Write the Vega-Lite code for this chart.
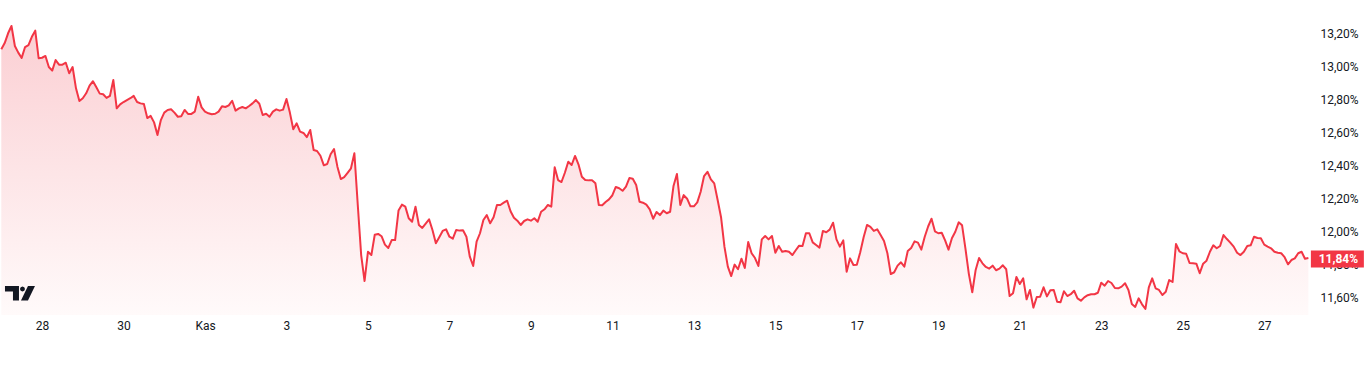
{
"$schema": "https://vega.github.io/schema/vega-lite/v6.json",
"width": 1312, "height": 315, "padding": 0, "autosize": {"type": "pad"},
"background": "#ffffff",
"config": {"view": {"stroke": null}, "font": "Roboto",
  "axis": {"labelFont": "Roboto", "labelFontSize": 12, "labelColor": "#131722", "domain": false, "ticks": false, "grid": false, "title": null}},
"datasets": {"series": [
{"t":"2024-10-27T00:00Z","v":13.103},{"t":"2024-10-27T02:00Z","v":13.141},{"t":"2024-10-27T04:00Z","v":13.200},{"t":"2024-10-27T06:00Z","v":13.244},{"t":"2024-10-27T08:00Z","v":13.123},{"t":"2024-10-27T10:00Z","v":13.083},{"t":"2024-10-27T12:00Z","v":13.051},{"t":"2024-10-27T14:00Z","v":13.117},{"t":"2024-10-27T16:00Z","v":13.129},{"t":"2024-10-27T18:00Z","v":13.179},{"t":"2024-10-27T20:00Z","v":13.216},{"t":"2024-10-27T22:00Z","v":13.049},
{"t":"2024-10-28T00:00Z","v":13.052},{"t":"2024-10-28T02:00Z","v":13.063},{"t":"2024-10-28T04:00Z","v":12.996},{"t":"2024-10-28T06:00Z","v":12.974},{"t":"2024-10-28T08:00Z","v":13.038},{"t":"2024-10-28T10:00Z","v":13.010},{"t":"2024-10-28T12:00Z","v":13.010},{"t":"2024-10-28T14:00Z","v":13.022},{"t":"2024-10-28T16:00Z","v":12.958},{"t":"2024-10-28T18:00Z","v":12.996},{"t":"2024-10-28T20:00Z","v":12.867},{"t":"2024-10-28T22:00Z","v":12.790},
{"t":"2024-10-29T00:00Z","v":12.807},{"t":"2024-10-29T02:00Z","v":12.837},{"t":"2024-10-29T04:00Z","v":12.883},{"t":"2024-10-29T06:00Z","v":12.910},{"t":"2024-10-29T08:00Z","v":12.873},{"t":"2024-10-29T10:00Z","v":12.835},{"t":"2024-10-29T12:00Z","v":12.831},{"t":"2024-10-29T14:00Z","v":12.809},{"t":"2024-10-29T16:00Z","v":12.821},{"t":"2024-10-29T18:00Z","v":12.917},{"t":"2024-10-29T20:00Z","v":12.746},{"t":"2024-10-29T22:00Z","v":12.770},
{"t":"2024-10-30T00:00Z","v":12.784},{"t":"2024-10-30T02:00Z","v":12.796},{"t":"2024-10-30T04:00Z","v":12.807},{"t":"2024-10-30T06:00Z","v":12.821},{"t":"2024-10-30T08:00Z","v":12.784},{"t":"2024-10-30T10:00Z","v":12.776},{"t":"2024-10-30T12:00Z","v":12.772},{"t":"2024-10-30T14:00Z","v":12.687},{"t":"2024-10-30T16:00Z","v":12.700},{"t":"2024-10-30T18:00Z","v":12.661},{"t":"2024-10-30T20:00Z","v":12.585},{"t":"2024-10-30T22:00Z","v":12.675},
{"t":"2024-10-31T00:00Z","v":12.720},{"t":"2024-10-31T02:00Z","v":12.736},{"t":"2024-10-31T04:00Z","v":12.740},{"t":"2024-10-31T06:00Z","v":12.720},{"t":"2024-10-31T08:00Z","v":12.695},{"t":"2024-10-31T10:00Z","v":12.698},{"t":"2024-10-31T12:00Z","v":12.736},{"t":"2024-10-31T14:00Z","v":12.712},{"t":"2024-10-31T16:00Z","v":12.712},{"t":"2024-10-31T18:00Z","v":12.726},{"t":"2024-10-31T20:00Z","v":12.816},{"t":"2024-10-31T22:00Z","v":12.752},
{"t":"2024-11-01T00:00Z","v":12.726},{"t":"2024-11-01T02:00Z","v":12.716},{"t":"2024-11-01T04:00Z","v":12.710},{"t":"2024-11-01T06:00Z","v":12.713},{"t":"2024-11-01T08:00Z","v":12.726},{"t":"2024-11-01T10:00Z","v":12.758},{"t":"2024-11-01T12:00Z","v":12.754},{"t":"2024-11-01T14:00Z","v":12.764},{"t":"2024-11-01T16:00Z","v":12.792},{"t":"2024-11-01T18:00Z","v":12.732},{"t":"2024-11-01T20:00Z","v":12.746},{"t":"2024-11-01T22:00Z","v":12.754},
{"t":"2024-11-02T00:00Z","v":12.746},{"t":"2024-11-02T02:00Z","v":12.760},{"t":"2024-11-02T04:00Z","v":12.776},{"t":"2024-11-02T06:00Z","v":12.796},{"t":"2024-11-02T08:00Z","v":12.774},{"t":"2024-11-02T10:00Z","v":12.706},{"t":"2024-11-02T12:00Z","v":12.713},{"t":"2024-11-02T14:00Z","v":12.695},{"t":"2024-11-02T16:00Z","v":12.726},{"t":"2024-11-02T18:00Z","v":12.740},{"t":"2024-11-02T20:00Z","v":12.732},{"t":"2024-11-02T22:00Z","v":12.738},
{"t":"2024-11-03T00:00Z","v":12.802},{"t":"2024-11-03T02:00Z","v":12.720},{"t":"2024-11-03T04:00Z","v":12.619},{"t":"2024-11-03T06:00Z","v":12.655},{"t":"2024-11-03T08:00Z","v":12.605},{"t":"2024-11-03T10:00Z","v":12.597},{"t":"2024-11-03T12:00Z","v":12.572},{"t":"2024-11-03T14:00Z","v":12.615},{"t":"2024-11-03T16:00Z","v":12.494},{"t":"2024-11-03T18:00Z","v":12.488},{"t":"2024-11-03T20:00Z","v":12.459},{"t":"2024-11-03T22:00Z","v":12.401},
{"t":"2024-11-04T00:00Z","v":12.409},{"t":"2024-11-04T02:00Z","v":12.468},{"t":"2024-11-04T04:00Z","v":12.500},{"t":"2024-11-04T06:00Z","v":12.393},{"t":"2024-11-04T08:00Z","v":12.318},{"t":"2024-11-04T10:00Z","v":12.330},{"t":"2024-11-04T12:00Z","v":12.356},{"t":"2024-11-04T14:00Z","v":12.383},{"t":"2024-11-04T16:00Z","v":12.474},{"t":"2024-11-04T18:00Z","v":12.161},{"t":"2024-11-04T20:00Z","v":11.858},{"t":"2024-11-04T22:00Z","v":11.701},
{"t":"2024-11-05T00:00Z","v":11.878},{"t":"2024-11-05T02:00Z","v":11.858},{"t":"2024-11-05T04:00Z","v":11.981},{"t":"2024-11-05T06:00Z","v":11.986},{"t":"2024-11-05T08:00Z","v":11.972},{"t":"2024-11-05T10:00Z","v":11.921},{"t":"2024-11-05T12:00Z","v":11.901},{"t":"2024-11-05T14:00Z","v":11.949},{"t":"2024-11-05T16:00Z","v":11.949},{"t":"2024-11-05T18:00Z","v":12.127},{"t":"2024-11-05T20:00Z","v":12.163},{"t":"2024-11-05T22:00Z","v":12.151},
{"t":"2024-11-06T00:00Z","v":12.081},{"t":"2024-11-06T02:00Z","v":12.060},{"t":"2024-11-06T04:00Z","v":12.151},{"t":"2024-11-06T06:00Z","v":12.040},{"t":"2024-11-06T08:00Z","v":12.022},{"t":"2024-11-06T10:00Z","v":12.048},{"t":"2024-11-06T12:00Z","v":12.074},{"t":"2024-11-06T14:00Z","v":12.010},{"t":"2024-11-06T16:00Z","v":11.929},{"t":"2024-11-06T18:00Z","v":11.966},{"t":"2024-11-06T20:00Z","v":12.004},{"t":"2024-11-06T22:00Z","v":12.014},
{"t":"2024-11-07T00:00Z","v":11.969},{"t":"2024-11-07T02:00Z","v":11.957},{"t":"2024-11-07T04:00Z","v":12.010},{"t":"2024-11-07T06:00Z","v":12.006},{"t":"2024-11-07T08:00Z","v":12.008},{"t":"2024-11-07T10:00Z","v":11.969},{"t":"2024-11-07T12:00Z","v":11.848},{"t":"2024-11-07T14:00Z","v":11.792},{"t":"2024-11-07T16:00Z","v":11.939},{"t":"2024-11-07T18:00Z","v":11.990},{"t":"2024-11-07T20:00Z","v":12.070},{"t":"2024-11-07T22:00Z","v":12.100},
{"t":"2024-11-08T00:00Z","v":12.050},{"t":"2024-11-08T02:00Z","v":12.087},{"t":"2024-11-08T04:00Z","v":12.161},{"t":"2024-11-08T06:00Z","v":12.161},{"t":"2024-11-08T08:00Z","v":12.175},{"t":"2024-11-08T10:00Z","v":12.187},{"t":"2024-11-08T12:00Z","v":12.123},{"t":"2024-11-08T14:00Z","v":12.084},{"t":"2024-11-08T16:00Z","v":12.066},{"t":"2024-11-08T18:00Z","v":12.040},{"t":"2024-11-08T20:00Z","v":12.064},{"t":"2024-11-08T22:00Z","v":12.074},
{"t":"2024-11-09T00:00Z","v":12.066},{"t":"2024-11-09T02:00Z","v":12.081},{"t":"2024-11-09T04:00Z","v":12.060},{"t":"2024-11-09T06:00Z","v":12.120},{"t":"2024-11-09T08:00Z","v":12.135},{"t":"2024-11-09T10:00Z","v":12.161},{"t":"2024-11-09T12:00Z","v":12.151},{"t":"2024-11-09T14:00Z","v":12.389},{"t":"2024-11-09T16:00Z","v":12.312},{"t":"2024-11-09T18:00Z","v":12.300},{"t":"2024-11-09T20:00Z","v":12.356},{"t":"2024-11-09T22:00Z","v":12.423},
{"t":"2024-11-10T00:00Z","v":12.403},{"t":"2024-11-10T02:00Z","v":12.458},{"t":"2024-11-10T04:00Z","v":12.407},{"t":"2024-11-10T06:00Z","v":12.332},{"t":"2024-11-10T08:00Z","v":12.312},{"t":"2024-11-10T10:00Z","v":12.310},{"t":"2024-11-10T12:00Z","v":12.310},{"t":"2024-11-10T14:00Z","v":12.292},{"t":"2024-11-10T16:00Z","v":12.161},{"t":"2024-11-10T18:00Z","v":12.159},{"t":"2024-11-10T20:00Z","v":12.179},{"t":"2024-11-10T22:00Z","v":12.195},
{"t":"2024-11-11T00:00Z","v":12.220},{"t":"2024-11-11T02:00Z","v":12.270},{"t":"2024-11-11T04:00Z","v":12.262},{"t":"2024-11-11T06:00Z","v":12.247},{"t":"2024-11-11T08:00Z","v":12.272},{"t":"2024-11-11T10:00Z","v":12.324},{"t":"2024-11-11T12:00Z","v":12.320},{"t":"2024-11-11T14:00Z","v":12.282},{"t":"2024-11-11T16:00Z","v":12.181},{"t":"2024-11-11T18:00Z","v":12.175},{"t":"2024-11-11T20:00Z","v":12.163},{"t":"2024-11-11T22:00Z","v":12.135},
{"t":"2024-11-12T00:00Z","v":12.078},{"t":"2024-11-12T02:00Z","v":12.119},{"t":"2024-11-12T04:00Z","v":12.100},{"t":"2024-11-12T06:00Z","v":12.127},{"t":"2024-11-12T08:00Z","v":12.111},{"t":"2024-11-12T10:00Z","v":12.120},{"t":"2024-11-12T12:00Z","v":12.276},{"t":"2024-11-12T14:00Z","v":12.349},{"t":"2024-11-12T16:00Z","v":12.161},{"t":"2024-11-12T18:00Z","v":12.221},{"t":"2024-11-12T20:00Z","v":12.199},{"t":"2024-11-12T22:00Z","v":12.153},
{"t":"2024-11-13T00:00Z","v":12.153},{"t":"2024-11-13T02:00Z","v":12.177},{"t":"2024-11-13T04:00Z","v":12.241},{"t":"2024-11-13T06:00Z","v":12.336},{"t":"2024-11-13T08:00Z","v":12.362},{"t":"2024-11-13T10:00Z","v":12.316},{"t":"2024-11-13T12:00Z","v":12.292},{"t":"2024-11-13T14:00Z","v":12.191},{"t":"2024-11-13T16:00Z","v":12.087},{"t":"2024-11-13T18:00Z","v":11.909},{"t":"2024-11-13T20:00Z","v":11.788},{"t":"2024-11-13T22:00Z","v":11.731},
{"t":"2024-11-14T00:00Z","v":11.800},{"t":"2024-11-14T02:00Z","v":11.772},{"t":"2024-11-14T04:00Z","v":11.836},{"t":"2024-11-14T06:00Z","v":11.780},{"t":"2024-11-14T08:00Z","v":11.937},{"t":"2024-11-14T10:00Z","v":11.869},{"t":"2024-11-14T12:00Z","v":11.840},{"t":"2024-11-14T14:00Z","v":11.792},{"t":"2024-11-14T16:00Z","v":11.953},{"t":"2024-11-14T18:00Z","v":11.973},{"t":"2024-11-14T20:00Z","v":11.953},{"t":"2024-11-14T22:00Z","v":11.973},
{"t":"2024-11-15T00:00Z","v":11.872},{"t":"2024-11-15T02:00Z","v":11.913},{"t":"2024-11-15T04:00Z","v":11.878},{"t":"2024-11-15T06:00Z","v":11.883},{"t":"2024-11-15T08:00Z","v":11.878},{"t":"2024-11-15T10:00Z","v":11.858},{"t":"2024-11-15T12:00Z","v":11.887},{"t":"2024-11-15T14:00Z","v":11.915},{"t":"2024-11-15T16:00Z","v":11.913},{"t":"2024-11-15T18:00Z","v":11.990},{"t":"2024-11-15T20:00Z","v":11.990},{"t":"2024-11-15T22:00Z","v":11.935},
{"t":"2024-11-16T00:00Z","v":11.919},{"t":"2024-11-16T02:00Z","v":11.903},{"t":"2024-11-16T04:00Z","v":12.004},{"t":"2024-11-16T06:00Z","v":11.996},{"t":"2024-11-16T08:00Z","v":12.012},{"t":"2024-11-16T10:00Z","v":12.054},{"t":"2024-11-16T12:00Z","v":11.953},{"t":"2024-11-16T14:00Z","v":11.909},{"t":"2024-11-16T16:00Z","v":11.947},{"t":"2024-11-16T18:00Z","v":11.757},{"t":"2024-11-16T20:00Z","v":11.838},{"t":"2024-11-16T22:00Z","v":11.798},
{"t":"2024-11-17T00:00Z","v":11.800},{"t":"2024-11-17T02:00Z","v":11.875},{"t":"2024-11-17T04:00Z","v":11.966},{"t":"2024-11-17T06:00Z","v":12.040},{"t":"2024-11-17T08:00Z","v":12.028},{"t":"2024-11-17T10:00Z","v":12.004},{"t":"2024-11-17T12:00Z","v":12.014},{"t":"2024-11-17T14:00Z","v":11.979},{"t":"2024-11-17T16:00Z","v":11.943},{"t":"2024-11-17T18:00Z","v":11.869},{"t":"2024-11-17T20:00Z","v":11.743},{"t":"2024-11-17T22:00Z","v":11.754},
{"t":"2024-11-18T00:00Z","v":11.794},{"t":"2024-11-18T02:00Z","v":11.814},{"t":"2024-11-18T04:00Z","v":11.788},{"t":"2024-11-18T06:00Z","v":11.883},{"t":"2024-11-18T08:00Z","v":11.901},{"t":"2024-11-18T10:00Z","v":11.941},{"t":"2024-11-18T12:00Z","v":11.933},{"t":"2024-11-18T14:00Z","v":11.891},{"t":"2024-11-18T16:00Z","v":11.969},{"t":"2024-11-18T18:00Z","v":12.031},{"t":"2024-11-18T20:00Z","v":12.078},{"t":"2024-11-18T22:00Z","v":12.002},
{"t":"2024-11-19T00:00Z","v":11.990},{"t":"2024-11-19T02:00Z","v":11.993},{"t":"2024-11-19T04:00Z","v":11.947},{"t":"2024-11-19T06:00Z","v":11.891},{"t":"2024-11-19T08:00Z","v":11.960},{"t":"2024-11-19T10:00Z","v":11.999},{"t":"2024-11-19T12:00Z","v":12.056},{"t":"2024-11-19T14:00Z","v":12.038},{"t":"2024-11-19T16:00Z","v":11.895},{"t":"2024-11-19T18:00Z","v":11.743},{"t":"2024-11-19T20:00Z","v":11.633},{"t":"2024-11-19T22:00Z","v":11.768},
{"t":"2024-11-20T00:00Z","v":11.840},{"t":"2024-11-20T02:00Z","v":11.808},{"t":"2024-11-20T04:00Z","v":11.786},{"t":"2024-11-20T06:00Z","v":11.776},{"t":"2024-11-20T08:00Z","v":11.794},{"t":"2024-11-20T10:00Z","v":11.766},{"t":"2024-11-20T12:00Z","v":11.776},{"t":"2024-11-20T14:00Z","v":11.796},{"t":"2024-11-20T16:00Z","v":11.772},{"t":"2024-11-20T18:00Z","v":11.610},{"t":"2024-11-20T20:00Z","v":11.627},{"t":"2024-11-20T22:00Z","v":11.725},
{"t":"2024-11-21T00:00Z","v":11.683},{"t":"2024-11-21T02:00Z","v":11.717},{"t":"2024-11-21T04:00Z","v":11.590},{"t":"2024-11-21T06:00Z","v":11.647},{"t":"2024-11-21T08:00Z","v":11.540},{"t":"2024-11-21T10:00Z","v":11.604},{"t":"2024-11-21T12:00Z","v":11.606},{"t":"2024-11-21T14:00Z","v":11.663},{"t":"2024-11-21T16:00Z","v":11.608},{"t":"2024-11-21T18:00Z","v":11.645},{"t":"2024-11-21T20:00Z","v":11.647},{"t":"2024-11-21T22:00Z","v":11.576},
{"t":"2024-11-22T00:00Z","v":11.572},{"t":"2024-11-22T02:00Z","v":11.639},{"t":"2024-11-22T04:00Z","v":11.610},{"t":"2024-11-22T06:00Z","v":11.621},{"t":"2024-11-22T08:00Z","v":11.642},{"t":"2024-11-22T10:00Z","v":11.596},{"t":"2024-11-22T12:00Z","v":11.582},{"t":"2024-11-22T14:00Z","v":11.602},{"t":"2024-11-22T16:00Z","v":11.615},{"t":"2024-11-22T18:00Z","v":11.621},{"t":"2024-11-22T20:00Z","v":11.621},{"t":"2024-11-22T22:00Z","v":11.630},
{"t":"2024-11-23T00:00Z","v":11.691},{"t":"2024-11-23T02:00Z","v":11.673},{"t":"2024-11-23T04:00Z","v":11.701},{"t":"2024-11-23T06:00Z","v":11.689},{"t":"2024-11-23T08:00Z","v":11.659},{"t":"2024-11-23T10:00Z","v":11.657},{"t":"2024-11-23T12:00Z","v":11.667},{"t":"2024-11-23T14:00Z","v":11.687},{"t":"2024-11-23T16:00Z","v":11.647},{"t":"2024-11-23T18:00Z","v":11.562},{"t":"2024-11-23T20:00Z","v":11.544},{"t":"2024-11-23T22:00Z","v":11.596},
{"t":"2024-11-24T00:00Z","v":11.560},{"t":"2024-11-24T02:00Z","v":11.532},{"t":"2024-11-24T04:00Z","v":11.663},{"t":"2024-11-24T06:00Z","v":11.717},{"t":"2024-11-24T08:00Z","v":11.657},{"t":"2024-11-24T10:00Z","v":11.647},{"t":"2024-11-24T12:00Z","v":11.616},{"t":"2024-11-24T14:00Z","v":11.636},{"t":"2024-11-24T16:00Z","v":11.707},{"t":"2024-11-24T18:00Z","v":11.695},{"t":"2024-11-24T20:00Z","v":11.925},{"t":"2024-11-24T22:00Z","v":11.881},
{"t":"2024-11-25T00:00Z","v":11.869},{"t":"2024-11-25T02:00Z","v":11.866},{"t":"2024-11-25T04:00Z","v":11.810},{"t":"2024-11-25T06:00Z","v":11.808},{"t":"2024-11-25T08:00Z","v":11.806},{"t":"2024-11-25T10:00Z","v":11.748},{"t":"2024-11-25T12:00Z","v":11.806},{"t":"2024-11-25T14:00Z","v":11.824},{"t":"2024-11-25T16:00Z","v":11.878},{"t":"2024-11-25T18:00Z","v":11.917},{"t":"2024-11-25T20:00Z","v":11.899},{"t":"2024-11-25T22:00Z","v":11.913},
{"t":"2024-11-26T00:00Z","v":11.979},{"t":"2024-11-26T02:00Z","v":11.955},{"t":"2024-11-26T04:00Z","v":11.933},{"t":"2024-11-26T06:00Z","v":11.909},{"t":"2024-11-26T08:00Z","v":11.872},{"t":"2024-11-26T10:00Z","v":11.858},{"t":"2024-11-26T12:00Z","v":11.878},{"t":"2024-11-26T14:00Z","v":11.913},{"t":"2024-11-26T16:00Z","v":11.917},{"t":"2024-11-26T18:00Z","v":11.969},{"t":"2024-11-26T20:00Z","v":11.961},{"t":"2024-11-26T22:00Z","v":11.960},
{"t":"2024-11-27T00:00Z","v":11.921},{"t":"2024-11-27T02:00Z","v":11.909},{"t":"2024-11-27T04:00Z","v":11.899},{"t":"2024-11-27T06:00Z","v":11.878},{"t":"2024-11-27T08:00Z","v":11.872},{"t":"2024-11-27T10:00Z","v":11.869},{"t":"2024-11-27T12:00Z","v":11.845},{"t":"2024-11-27T14:00Z","v":11.802},{"t":"2024-11-27T16:00Z","v":11.828},{"t":"2024-11-27T18:00Z","v":11.838},{"t":"2024-11-27T20:00Z","v":11.869},{"t":"2024-11-27T22:00Z","v":11.878},
{"t":"2024-11-28T00:00Z","v":11.836},{"t":"2024-11-28T02:00Z","v":11.840}
]},
"data": {"name": "series"},
"encoding": {
  "x": {"field": "t", "type": "temporal",
    "scale": {"type": "utc", "domain": [{"year": 2024, "month": 10, "date": 26, "hours": 23, "minutes": 14, "utc": true}, {"year": 2024, "month": 11, "date": 28, "hours": 4, "minutes": 8, "utc": true}]},
    "axis": {"values": [
      {"year": 2024, "month": 10, "date": 28, "utc": true}, {"year": 2024, "month": 10, "date": 30, "utc": true},
      {"year": 2024, "month": 11, "date": 1, "utc": true}, {"year": 2024, "month": 11, "date": 3, "utc": true},
      {"year": 2024, "month": 11, "date": 5, "utc": true}, {"year": 2024, "month": 11, "date": 7, "utc": true},
      {"year": 2024, "month": 11, "date": 9, "utc": true}, {"year": 2024, "month": 11, "date": 11, "utc": true},
      {"year": 2024, "month": 11, "date": 13, "utc": true}, {"year": 2024, "month": 11, "date": 15, "utc": true},
      {"year": 2024, "month": 11, "date": 17, "utc": true}, {"year": 2024, "month": 11, "date": 19, "utc": true},
      {"year": 2024, "month": 11, "date": 21, "utc": true}, {"year": 2024, "month": 11, "date": 23, "utc": true},
      {"year": 2024, "month": 11, "date": 25, "utc": true}, {"year": 2024, "month": 11, "date": 27, "utc": true}],
      "labelExpr": "utcdate(datum.value) == 1 ? 'Kas' : '' + utcdate(datum.value)",
      "labelPadding": 5, "labelFlush": false, "labelOverlap": false}},
  "y": {"field": "v", "type": "quantitative",
    "scale": {"domain": [11.4953, 13.4015], "zero": false, "nice": false},
    "axis": {"orient": "right", "values": [11.6, 11.8, 12, 12.2, 12.4, 12.6, 12.8, 13, 13.2],
      "labelExpr": "replace(format(datum.value, '.2f'), '.', ',') + '%'",
      "labelPadding": 8, "labelAlign": "left", "labelOverlap": false}}
},
"layer": [
  {"mark": {"type": "area", "interpolate": "linear", "opacity": 1,
     "color": {"gradient": "linear", "x1": 0, "y1": 1, "x2": 0, "y2": 0,
       "stops": [{"offset": 0, "color": "#fffafa"}, {"offset": 1, "color": "#fbcfd3"}]}},
   "encoding": {"y2": {"datum": 11.4953}}},
  {"mark": {"type": "line", "interpolate": "linear", "color": "#F23645", "strokeWidth": 2, "strokeJoin": "round"}},
  {"transform": [
     {"window": [{"op": "row_number", "as": "rn"}], "sort": [{"field": "t", "order": "descending"}]},
     {"filter": "datum.rn == 1"},
     {"calculate": "replace(format(datum.v, '.2f'), '.', ',') + '%'", "as": "label"}],
   "layer": [
     {"mark": {"type": "point", "shape": "M-1,-0.32H1V0.32H-1Z", "size": 2809, "filled": true, "color": "#F23645", "opacity": 1, "strokeWidth": 0, "xOffset": 29, "yOffset": 1}},
     {"mark": {"type": "text", "color": "#ffffff", "font": "Roboto", "fontSize": 12, "fontWeight": "bold", "align": "center", "baseline": "middle", "xOffset": 30, "yOffset": 1},
      "encoding": {"text": {"field": "label", "type": "nominal"}}}
   ]},
  {"transform": [
     {"window": [{"op": "row_number", "as": "rn"}], "sort": [{"field": "t", "order": "ascending"}]},
     {"filter": "datum.rn == 1"}],
   "mark": {"type": "point", "filled": true, "color": "#131722", "opacity": 1, "strokeWidth": 0, "size": 900,
     "shape": "M-1,-0.483L-0.067,-0.483L-0.067,0.483L-0.467,0.483L-0.467,-0.117L-1,-0.117Z M0.334,-0.283L0.285,-0.165L0.167,-0.116L0.049,-0.165L0,-0.283L0.049,-0.401L0.167,-0.45L0.285,-0.401Z M0.533,-0.483L1,-0.483L0.533,0.483L0.067,0.483Z"},
   "encoding": {
     "x": {"datum": {"year": 2024, "month": 10, "date": 27, "hours": 11, "utc": true}, "type": "temporal"},
     "y": {"datum": 11.627, "type": "quantitative"}}}
]
}
